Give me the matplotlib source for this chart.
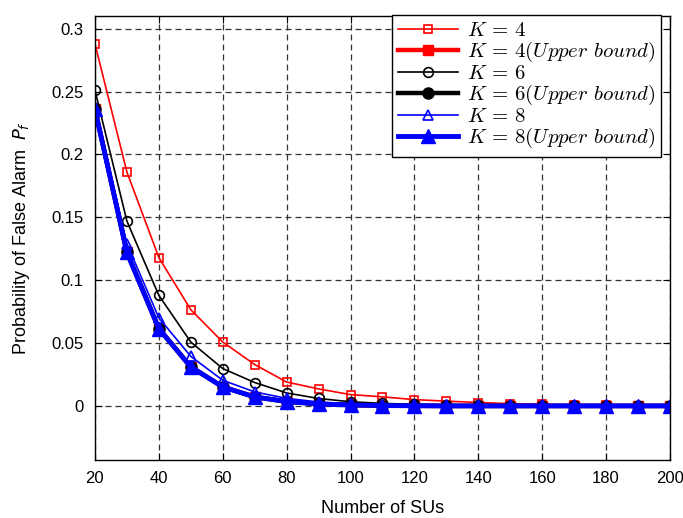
import matplotlib
matplotlib.use("Agg")
import matplotlib.pyplot as plt
import numpy as np

plt.rcParams['mathtext.fontset'] = 'cm'
plt.rcParams['font.family'] = ['Liberation Sans', 'DejaVu Sans']

num_sus = [20, 30, 40, 50, 60, 70, 80, 90, 100, 110, 120, 130, 140, 150, 160, 170, 180, 190, 200]

pf_k4 = [0.288, 0.186, 0.118, 0.0765, 0.0508, 0.0329, 0.019, 0.0135, 0.009, 0.0072, 0.005, 0.0038, 0.0027,
         0.0018, 0.0012, 0.0008, 0.0005, 0.0003, 0.0002]
pf_k4_ub = [0.2362, 0.1222, 0.0616, 0.0311, 0.0152, 0.0072, 0.0035, 0.0015, 0.0007, 0.0003, 0.0001, 0.0, 0.0,
            0.0, 0.0, 0.0, 0.0, 0.0, 0.0]
pf_k6 = [0.251, 0.147, 0.0879, 0.0508, 0.0297, 0.0186, 0.0103, 0.0059, 0.0033, 0.002, 0.0012, 0.0007, 0.0004,
         0.0002, 0.0001, 0.0, 0.0, 0.0, 0.0]
pf_k6_ub = [0.2361, 0.1221, 0.0615, 0.031, 0.0151, 0.0071, 0.0035, 0.0015, 0.0007, 0.0003, 0.0001, 0.0, 0.0,
            0.0, 0.0, 0.0, 0.0, 0.0, 0.0]
pf_k8 = [0.238, 0.129, 0.070, 0.0394, 0.0204, 0.0111, 0.006, 0.0031, 0.0016, 0.0008, 0.0004, 0.0002, 0.0001,
         0.0, 0.0, 0.0, 0.0, 0.0, 0.0]
pf_k8_ub = [0.236, 0.122, 0.0614, 0.031, 0.0151, 0.0071, 0.0035, 0.0015, 0.0007, 0.0003, 0.0001, 0.0, 0.0,
            0.0, 0.0, 0.0, 0.0, 0.0, 0.0]

labels = [r'$K\,=\,4$', r'$K\,=\,4(Upper\ bound)$', r'$K\,=\,6$',
          r'$K\,=\,6(Upper\ bound)$', r'$K\,=\,8$', r'$K\,=\,8(Upper\ bound)$']

fig = plt.figure(figsize=(6.83, 5.18), dpi=100)
ax = fig.add_axes([0.139, 0.112, 0.842, 0.857])

ax.plot(num_sus, pf_k4, color='red', lw=1.2, marker='s', ms=6, mfc='none', mec='red', mew=1.2, label=labels[0])
ax.plot(num_sus, pf_k4_ub, color='red', lw=3.2, marker='s', ms=7.5, mfc='red', mec='red', label=labels[1])
ax.plot(num_sus, pf_k6, color='black', lw=1.2, marker='o', ms=7, mfc='none', mec='black', mew=1.2, label=labels[2])
ax.plot(num_sus, pf_k6_ub, color='black', lw=3.2, marker='o', ms=8, mfc='black', mec='black', label=labels[3])
ax.plot(num_sus, pf_k8, color='blue', lw=1.2, marker='^', ms=7, mfc='none', mec='blue', mew=1.2, label=labels[4])
ax.plot(num_sus, pf_k8_ub, color='blue', lw=3.5, marker='^', ms=10, mfc='blue', mec='blue', label=labels[5])

ax.set_xlim(20, 200)
ax.set_ylim(-0.043, 0.31)
ax.set_xticks(np.arange(20, 201, 20))
ax.set_yticks([0, 0.05, 0.1, 0.15, 0.2, 0.25, 0.3])
ax.set_yticklabels(['0', '0.05', '0.1', '0.15', '0.2', '0.25', '0.3'])

ax.grid(True, color='#333333', linestyle=(0, (4.8, 3.2)), linewidth=0.9)
ax.tick_params(direction='in', length=5, top=True, right=True, labelsize=12, pad=8)
for s in ax.spines.values():
    s.set_linewidth(1.0)

ax.set_xlabel('Number of SUs', fontsize=13, labelpad=10)
ax.set_ylabel(r'Probability of False Alarm  $P_f$', fontsize=13, labelpad=14, math_fontfamily='dejavusans')

leg = ax.legend(loc='upper right', bbox_to_anchor=(0.985, 1.003), fontsize=15, handlelength=2.9,
                labelspacing=0.0, borderpad=0.3, handletextpad=0.4, frameon=True, fancybox=False,
                borderaxespad=0.0)
leg.get_frame().set_edgecolor('black')
leg.get_frame().set_linewidth(1.0)
leg.get_frame().set_alpha(1.0)

fig.savefig('out.png', dpi=100)
